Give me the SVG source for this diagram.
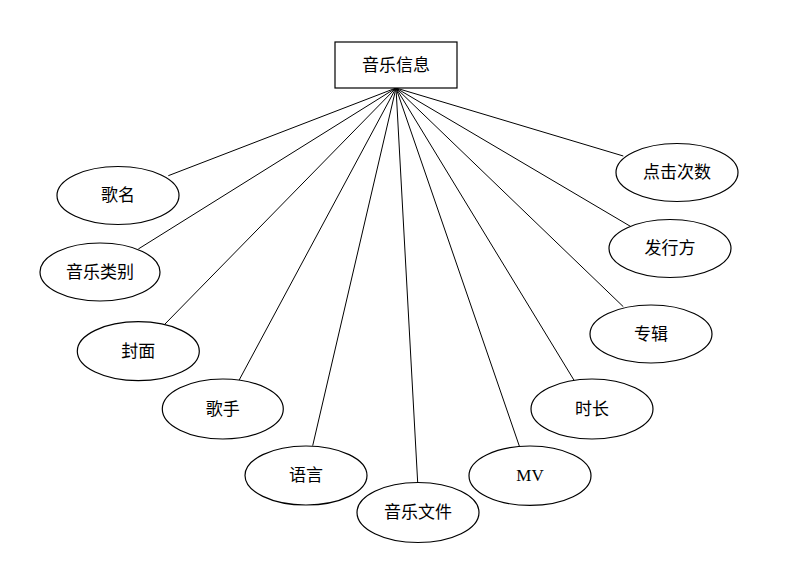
<svg xmlns="http://www.w3.org/2000/svg" width="800" height="564" viewBox="0 0 800 564">
<style>
.n{fill:#fff;stroke:#000;stroke-width:1.2}
.t{font-family:"Liberation Serif","Noto Sans CJK SC",serif;font-size:17px;fill:#000;text-anchor:middle}
.c line{stroke:#000;stroke-width:1}
</style>
<rect width="800" height="564" fill="#fff"/>
<g class="c" id="connectors">
<line x1="396" y1="88" x2="168.3" y2="175.7"/>
<line x1="396" y1="88" x2="138.3" y2="249"/>
<line x1="396" y1="88" x2="165" y2="324"/>
<line x1="396" y1="88" x2="239" y2="380.3"/>
<line x1="396" y1="88" x2="312.7" y2="445.7"/>
<line x1="396" y1="88" x2="417.7" y2="482.7"/>
<line x1="396" y1="88" x2="519.3" y2="446"/>
<line x1="396" y1="88" x2="574.3" y2="380.7"/>
<line x1="396" y1="88" x2="623.3" y2="306.7"/>
<line x1="396" y1="88" x2="631" y2="226.7"/>
<line x1="396" y1="88" x2="623.3" y2="156"/>
</g>
<g id="music_info"><rect class="n" x="335" y="42" width="122" height="46"/><text class="t" x="396" y="71">音乐信息</text></g>
<g id="song_name"><ellipse class="n" cx="118" cy="195.5" rx="61" ry="29"/><text class="t" x="118" y="201">歌名</text></g>
<g id="category"><ellipse class="n" cx="100" cy="272" rx="60" ry="29"/><text class="t" x="100" y="278">音乐类别</text></g>
<g id="cover"><ellipse class="n" cx="138.3" cy="351.2" rx="61" ry="29.5"/><text class="t" x="138.3" y="357">封面</text></g>
<g id="singer"><ellipse class="n" cx="222.8" cy="409" rx="60.5" ry="30"/><text class="t" x="222.8" y="415">歌手</text></g>
<g id="language"><ellipse class="n" cx="306" cy="475.5" rx="61" ry="29.5"/><text class="t" x="306" y="481">语言</text></g>
<g id="music_file"><ellipse class="n" cx="418" cy="512.5" rx="61" ry="30"/><text class="t" x="418" y="518">音乐文件</text></g>
<g id="mv"><ellipse class="n" cx="530" cy="475.7" rx="61" ry="29.7"/><text class="t" x="530" y="481" style="font-family:'Liberation Sans Narrow','Liberation Serif',serif">MV</text></g>
<g id="duration"><ellipse class="n" cx="592" cy="409" rx="61" ry="30"/><text class="t" x="592" y="415">时长</text></g>
<g id="album"><ellipse class="n" cx="651" cy="334" rx="61" ry="29"/><text class="t" x="651" y="340">专辑</text></g>
<g id="publisher"><ellipse class="n" cx="670" cy="248.5" rx="61" ry="29"/><text class="t" x="670" y="254">发行方</text></g>
<g id="clicks"><ellipse class="n" cx="677" cy="172.5" rx="61" ry="29"/><text class="t" x="677" y="178">点击次数</text></g>
</svg>
